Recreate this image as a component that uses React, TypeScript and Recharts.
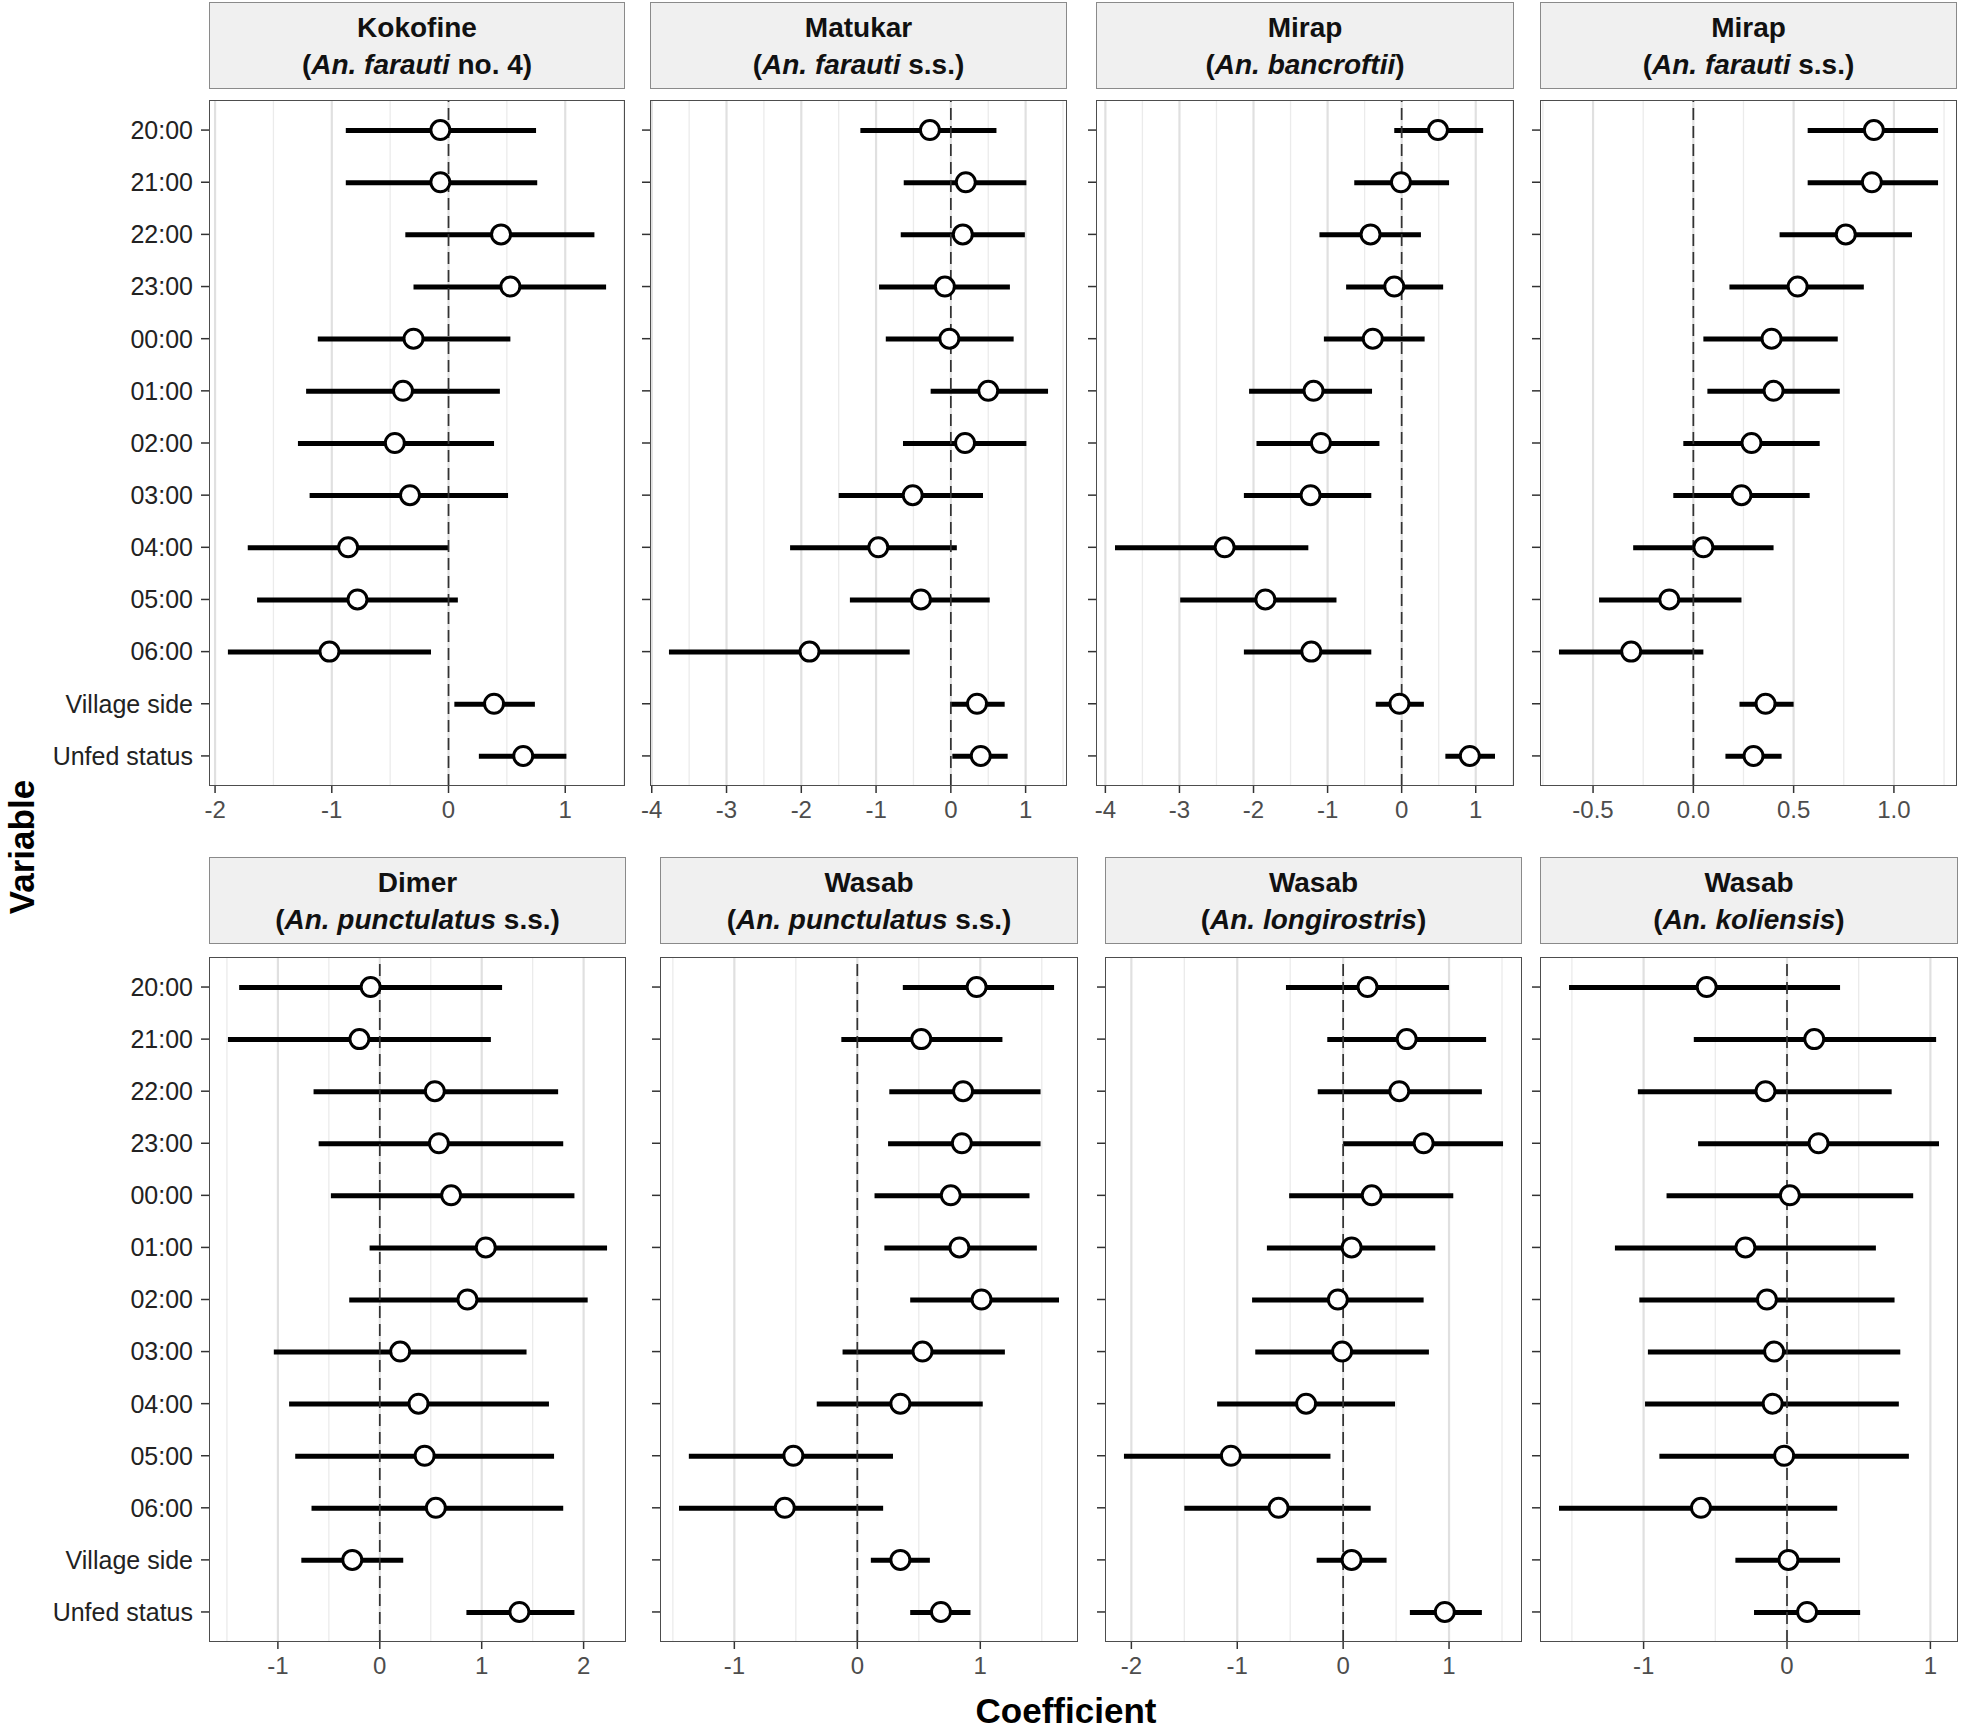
import React from "react";
import { ComposedChart, Bar, Line, XAxis, YAxis, ReferenceLine } from "recharts";

// variables (top to bottom)
const variables = [
  "20:00", "21:00", "22:00", "23:00", "00:00", "01:00", "02:00",
  "03:00", "04:00", "05:00", "06:00", "Village side", "Unfed status",
];

// Kokofine (An. farauti no. 4)
const kokofineEst = [-0.07, -0.07, 0.45, 0.53, -0.3, -0.39, -0.46, -0.33, -0.86, -0.78, -1.02, 0.39, 0.64];
const kokofineLo = [-0.88, -0.88, -0.37, -0.3, -1.12, -1.22, -1.29, -1.19, -1.72, -1.64, -1.89, 0.05, 0.26];
const kokofineHi = [0.75, 0.76, 1.25, 1.35, 0.53, 0.44, 0.39, 0.51, 0.0, 0.08, -0.15, 0.74, 1.01];
const kokofineTicks = [-2, -1, 0, 1];

// Matukar (An. farauti s.s.)
const matukarEst = [-0.28, 0.2, 0.16, -0.08, -0.02, 0.5, 0.19, -0.51, -0.97, -0.4, -1.89, 0.35, 0.4];
const matukarLo = [-1.21, -0.63, -0.67, -0.96, -0.87, -0.27, -0.64, -1.5, -2.15, -1.35, -3.77, -0.01, 0.02];
const matukarHi = [0.61, 1.01, 0.99, 0.79, 0.84, 1.3, 1.01, 0.43, 0.08, 0.52, -0.55, 0.72, 0.76];
const matukarTicks = [-4, -3, -2, -1, 0, 1];

// Mirap (An. bancroftii)
const mirapBanEst = [0.49, -0.01, -0.42, -0.1, -0.39, -1.19, -1.09, -1.23, -2.39, -1.84, -1.22, -0.03, 0.92];
const mirapBanLo = [-0.1, -0.64, -1.11, -0.75, -1.05, -2.06, -1.96, -2.13, -3.87, -2.99, -2.13, -0.35, 0.59];
const mirapBanHi = [1.1, 0.64, 0.26, 0.56, 0.31, -0.4, -0.3, -0.41, -1.26, -0.88, -0.41, 0.3, 1.26];
const mirapBanTicks = [-4, -3, -2, -1, 0, 1];

// Mirap (An. farauti s.s.)
const mirapFarEst = [0.9, 0.89, 0.76, 0.52, 0.39, 0.4, 0.29, 0.24, 0.05, -0.12, -0.31, 0.36, 0.3];
const mirapFarLo = [0.57, 0.57, 0.43, 0.18, 0.05, 0.07, -0.05, -0.1, -0.3, -0.47, -0.67, 0.23, 0.16];
const mirapFarHi = [1.22, 1.22, 1.09, 0.85, 0.72, 0.73, 0.63, 0.58, 0.4, 0.24, 0.05, 0.5, 0.44];
const mirapFarTicks = [-0.5, 0, 0.5, 1];

// Dimer (An. punctulatus s.s.)
const dimerEst = [-0.09, -0.2, 0.54, 0.58, 0.7, 1.04, 0.86, 0.2, 0.38, 0.44, 0.55, -0.27, 1.37];
const dimerLo = [-1.38, -1.49, -0.65, -0.6, -0.48, -0.1, -0.3, -1.04, -0.89, -0.83, -0.67, -0.77, 0.85];
const dimerHi = [1.2, 1.09, 1.75, 1.8, 1.91, 2.23, 2.04, 1.44, 1.66, 1.71, 1.8, 0.23, 1.91];
const dimerTicks = [-1, 0, 1, 2];

// Wasab (An. punctulatus s.s.)
const wasabPunEst = [0.97, 0.52, 0.86, 0.85, 0.76, 0.83, 1.01, 0.53, 0.35, -0.52, -0.59, 0.35, 0.68];
const wasabPunLo = [0.37, -0.13, 0.26, 0.25, 0.14, 0.22, 0.43, -0.12, -0.33, -1.37, -1.45, 0.11, 0.43];
const wasabPunHi = [1.6, 1.18, 1.49, 1.49, 1.4, 1.46, 1.64, 1.2, 1.02, 0.29, 0.21, 0.59, 0.92];
const wasabPunTicks = [-1, 0, 1];

// Wasab (An. longirostris)
const wasabLonEst = [0.23, 0.6, 0.53, 0.76, 0.27, 0.08, -0.05, -0.01, -0.35, -1.06, -0.61, 0.08, 0.96];
const wasabLonLo = [-0.54, -0.15, -0.24, 0.0, -0.51, -0.72, -0.86, -0.83, -1.19, -2.07, -1.5, -0.25, 0.63];
const wasabLonHi = [1.0, 1.35, 1.31, 1.51, 1.04, 0.87, 0.76, 0.81, 0.49, -0.12, 0.26, 0.41, 1.31];
const wasabLonTicks = [-2, -1, 0, 1];

// Wasab (An. koliensis)
const wasabKolEst = [-0.56, 0.19, -0.15, 0.22, 0.02, -0.29, -0.14, -0.09, -0.1, -0.02, -0.6, 0.01, 0.14];
const wasabKolLo = [-1.52, -0.65, -1.04, -0.62, -0.84, -1.2, -1.03, -0.97, -0.99, -0.89, -1.59, -0.36, -0.23];
const wasabKolHi = [0.37, 1.04, 0.73, 1.06, 0.88, 0.62, 0.75, 0.79, 0.78, 0.85, 0.35, 0.37, 0.51];
const wasabKolTicks = [-1, 0, 1];

// strip labels
const sites = ["Kokofine", "Matukar", "Mirap", "Mirap", "Dimer", "Wasab", "Wasab", "Wasab"];
const species = [
  "An. farauti", "An. farauti", "An. bancroftii", "An. farauti",
  "An. punctulatus", "An. punctulatus", "An. longirostris", "An. koliensis",
];
const speciesSuffix = [" no. 4", " s.s.", "", " s.s.", " s.s.", " s.s.", "", ""];

const FONT = '"Liberation Sans", Arial, Helvetica, sans-serif';

interface PanelProps {
  idx: number;
  left: number;
  right: number;
  top: number;
  bottom: number;
  stripTop: number;
  est: number[];
  lo: number[];
  hi: number[];
  ticks: number[];
  decimals?: number;
  showLabels?: boolean;
}

const Panel: React.FC<PanelProps> = ({
  idx, left, right, top, bottom, stripTop, est, lo, hi, ticks, decimals = 0, showLabels = false,
}) => {
  const width = right - left;
  const height = bottom - top;
  const data = variables.map((v, i) => ({ variable: v, est: est[i], ci: [lo[i], hi[i]] }));

  // 5% expansion like ggplot
  const min = Math.min(...lo);
  const max = Math.max(...hi);
  const pad = (max - min) * 0.05;
  const domain: [number, number] = [min - pad, max + pad];

  const step = ticks[1] - ticks[0];
  const minor: number[] = [];
  for (let v = ticks[0] - step / 2; v <= ticks[ticks.length - 1] + step; v += step) {
    if (v > domain[0] && v < domain[1]) minor.push(Math.round(v * 1000) / 1000);
  }

  const yw = showLabels ? 200 : 24;

  return (
    <>
      <div
        style={{
          position: "absolute",
          left,
          top: stripTop,
          width,
          height: 87,
          boxSizing: "border-box",
          border: "1.3px solid #8a8a8a",
          background: "#f0f0f0",
          display: "flex",
          flexDirection: "column",
          justifyContent: "center",
          alignItems: "center",
          fontWeight: "bold",
          fontSize: 28,
          lineHeight: "37px",
          color: "#111",
        }}
      >
        <div>{sites[idx]}</div>
        <div>
          (<i>{species[idx]}</i>
          {speciesSuffix[idx]})
        </div>
      </div>
      <div style={{ position: "absolute", left: left - yw, top }}>
        <ComposedChart
          layout="vertical"
          width={width + yw}
          height={height + 50}
          data={data}
          margin={{ top: 0, right: 0, bottom: 0, left: 0 }}
        >
          <XAxis
            type="number"
            domain={domain}
            ticks={ticks}
            allowDataOverflow
            interval={0}
            height={50}
            axisLine={false}
            tickSize={7}
            tickMargin={8}
            tickLine={{ stroke: "#333", strokeWidth: 1.5 }}
            tick={{ fontSize: 24, fill: "#4d4d4d" }}
            tickFormatter={(v: number) => v.toFixed(decimals)}
          />
          <YAxis
            type="category"
            dataKey="variable"
            width={yw}
            interval={0}
            padding={{ top: 4, bottom: 4 }}
            axisLine={false}
            tickSize={8}
            tickMargin={8}
            tickLine={{ stroke: "#333", strokeWidth: 1.5 }}
            tick={{ fontSize: 25, fill: "#222" }}
            tickFormatter={(v: string) => (showLabels ? v : "")}
          />
          {minor.map((v) => (
            <ReferenceLine key={"m" + v} x={v} stroke="#ebebeb" strokeWidth={1.3} zIndex={-100} />
          ))}
          {ticks.map((v) => (
            <ReferenceLine key={"M" + v} x={v} stroke="#e0e0e0" strokeWidth={2.2} zIndex={-90} />
          ))}
          <ReferenceLine x={0} stroke="#333" strokeWidth={1.7} strokeDasharray="12 6" />
          <Bar dataKey="ci" barSize={5} fill="#000" isAnimationActive={false} />
          <Line
            dataKey="est"
            stroke="none"
            dot={{ r: 9.5, fill: "#fff", stroke: "#000", strokeWidth: 3 }}
            activeDot={false}
            isAnimationActive={false}
          />
        </ComposedChart>
        <div
          style={{
            position: "absolute",
            left: yw,
            top: 0,
            width,
            height,
            boxSizing: "border-box",
            border: "1.3px solid #4d4d4d",
            pointerEvents: "none",
          }}
        />
      </div>
    </>
  );
};

const App: React.FC = () => {
  const topRow = { top: 100, bottom: 786, stripTop: 2 };
  const botRow = { top: 957, bottom: 1642, stripTop: 857 };
  return (
    <div
      style={{
        position: "absolute",
        left: 0,
        top: 0,
        width: 1961,
        height: 1730,
        background: "#fff",
        fontFamily: FONT,
        overflow: "hidden",
      }}
    >
      <Panel idx={0} left={209} right={625} {...topRow} est={kokofineEst} lo={kokofineLo} hi={kokofineHi} ticks={kokofineTicks} showLabels />
      <Panel idx={1} left={650} right={1067} {...topRow} est={matukarEst} lo={matukarLo} hi={matukarHi} ticks={matukarTicks} />
      <Panel idx={2} left={1096} right={1514} {...topRow} est={mirapBanEst} lo={mirapBanLo} hi={mirapBanHi} ticks={mirapBanTicks} />
      <Panel idx={3} left={1540} right={1957} {...topRow} est={mirapFarEst} lo={mirapFarLo} hi={mirapFarHi} ticks={mirapFarTicks} decimals={1} />
      <Panel idx={4} left={209} right={626} {...botRow} est={dimerEst} lo={dimerLo} hi={dimerHi} ticks={dimerTicks} showLabels />
      <Panel idx={5} left={660} right={1078} {...botRow} est={wasabPunEst} lo={wasabPunLo} hi={wasabPunHi} ticks={wasabPunTicks} />
      <Panel idx={6} left={1105} right={1522} {...botRow} est={wasabLonEst} lo={wasabLonLo} hi={wasabLonHi} ticks={wasabLonTicks} />
      <Panel idx={7} left={1540} right={1958} {...botRow} est={wasabKolEst} lo={wasabKolLo} hi={wasabKolHi} ticks={wasabKolTicks} />

      <div
        style={{
          position: "absolute",
          left: 21,
          top: 847,
          transform: "translate(-50%, -50%) rotate(-90deg)",
          fontSize: 35,
          lineHeight: 1,
          fontWeight: "bold",
          color: "#000",
          whiteSpace: "nowrap",
        }}
      >
        Variable
      </div>
      <div
        style={{
          position: "absolute",
          left: 1066,
          top: 1710,
          transform: "translate(-50%, -50%)",
          fontSize: 35,
          lineHeight: 1,
          fontWeight: "bold",
          color: "#000",
          whiteSpace: "nowrap",
        }}
      >
        Coefficient
      </div>
    </div>
  );
};

export default App;
